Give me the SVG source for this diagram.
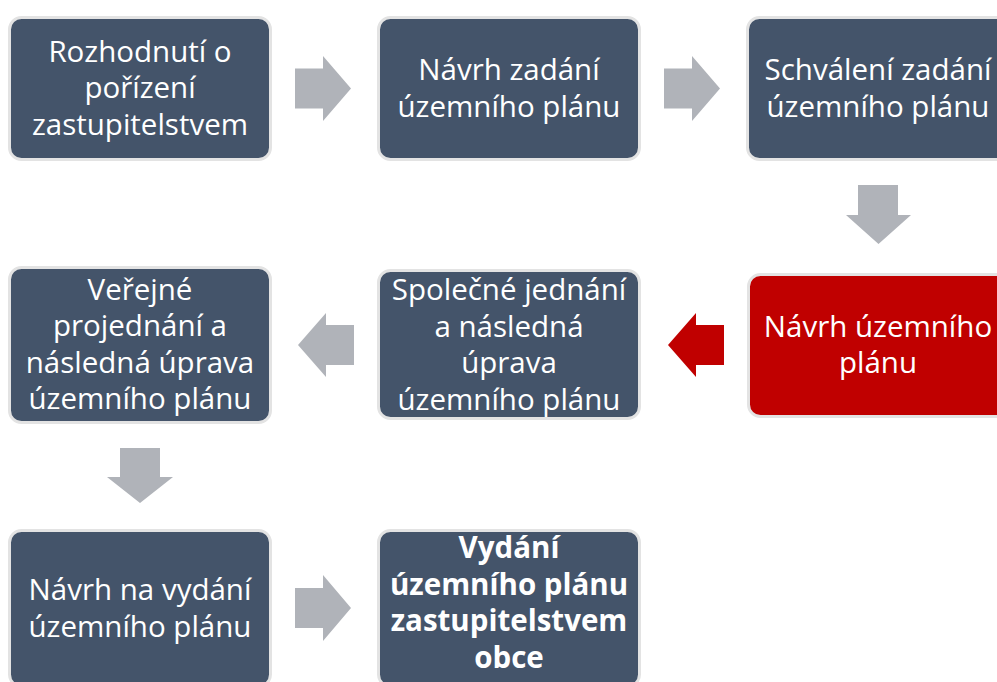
<svg xmlns="http://www.w3.org/2000/svg" width="997" height="682" viewBox="0 0 997 682">
<style>
.box{fill:#44546A;stroke:#E3E3E3;stroke-width:3}
.red{fill:#C00000;stroke:#E3E3E3;stroke-width:3}
.t{font-family:"Open Sans","Liberation Sans",sans-serif;font-size:29.5px;fill:#FFFFFF;text-anchor:middle}
.b{font-weight:bold}
.ga{fill:#B0B3B9}
.ra{fill:#C00000}
</style>
<rect width="997" height="682" fill="#FFFFFF"/>
<g id="connectors">
<polygon class="ga" points="295,68.5 323,68.5 323,56 351,88.5 323,121 323,108.5 295,108.5"/>
<polygon class="ga" points="664,68.5 692,68.5 692,56 720,88.5 692,121 692,108.5 664,108.5"/>
<polygon class="ga" points="858,185 898,185 898,215 911,215 878.5,244 846,215 858,215"/>
<polygon class="ra" points="724,325 696,325 696,313 668,345 696,377 696,365 724,365"/>
<polygon class="ga" points="354,325 326,325 326,313 298,345 326,377 326,365 354,365"/>
<polygon class="ga" points="120,448 160,448 160,477 173,477 140,503 107,477 120,477"/>
<polygon class="ga" points="295,588 323,588 323,575 351,608 323,641 323,628 295,628"/>
</g>
<g id="n1">
<rect class="box" x="9.5" y="17.5" width="261" height="142" rx="12"/>
<text class="t" x="140" y="61.5">Rozhodnutí o</text>
<text class="t" x="140" y="98">pořízení</text>
<text class="t" x="140" y="134.5">zastupitelstvem</text>
</g>
<g id="n2">
<rect class="box" x="378.5" y="17.5" width="261" height="142" rx="12"/>
<text class="t" x="509" y="80">Návrh zadání</text>
<text class="t" x="509" y="116.5">územního plánu</text>
</g>
<g id="n3">
<rect class="box" x="747.5" y="17.5" width="261" height="142" rx="12"/>
<text class="t" x="878" y="80">Schválení zadání</text>
<text class="t" x="878" y="116.5">územního plánu</text>
</g>
<g id="n4">
<rect class="red" x="748.5" y="274.5" width="261" height="142" rx="12"/>
<text class="t" x="878" y="336.5">Návrh územního</text>
<text class="t" x="878" y="373">plánu</text>
</g>
<g id="n5">
<rect class="box" x="378.5" y="270.5" width="261" height="148" rx="12"/>
<text class="t" x="509" y="300">Společné jednání</text>
<text class="t" x="509" y="336.5">a následná</text>
<text class="t" x="509" y="373">úprava</text>
<text class="t" x="509" y="409.5">územního plánu</text>
</g>
<g id="n6">
<rect class="box" x="9.5" y="267.5" width="261" height="155" rx="12"/>
<text class="t" x="140" y="299.5">Veřejné</text>
<text class="t" x="140" y="336">projednání a</text>
<text class="t" x="140" y="372.5">následná úprava</text>
<text class="t" x="140" y="409">územního plánu</text>
</g>
<g id="n7">
<rect class="box" x="9.5" y="530.5" width="261" height="156" rx="12"/>
<text class="t" x="140" y="600">Návrh na vydání</text>
<text class="t" x="140" y="636.5">územního plánu</text>
</g>
<g id="n8">
<rect class="box" x="378.5" y="530.5" width="261" height="156" rx="12"/>
<text class="t b" x="509" y="558">Vydání</text>
<text class="t b" x="509" y="594.5">územního plánu</text>
<text class="t b" x="509" y="631">zastupitelstvem</text>
<text class="t b" x="509" y="667.5">obce</text>
</g>
</svg>
